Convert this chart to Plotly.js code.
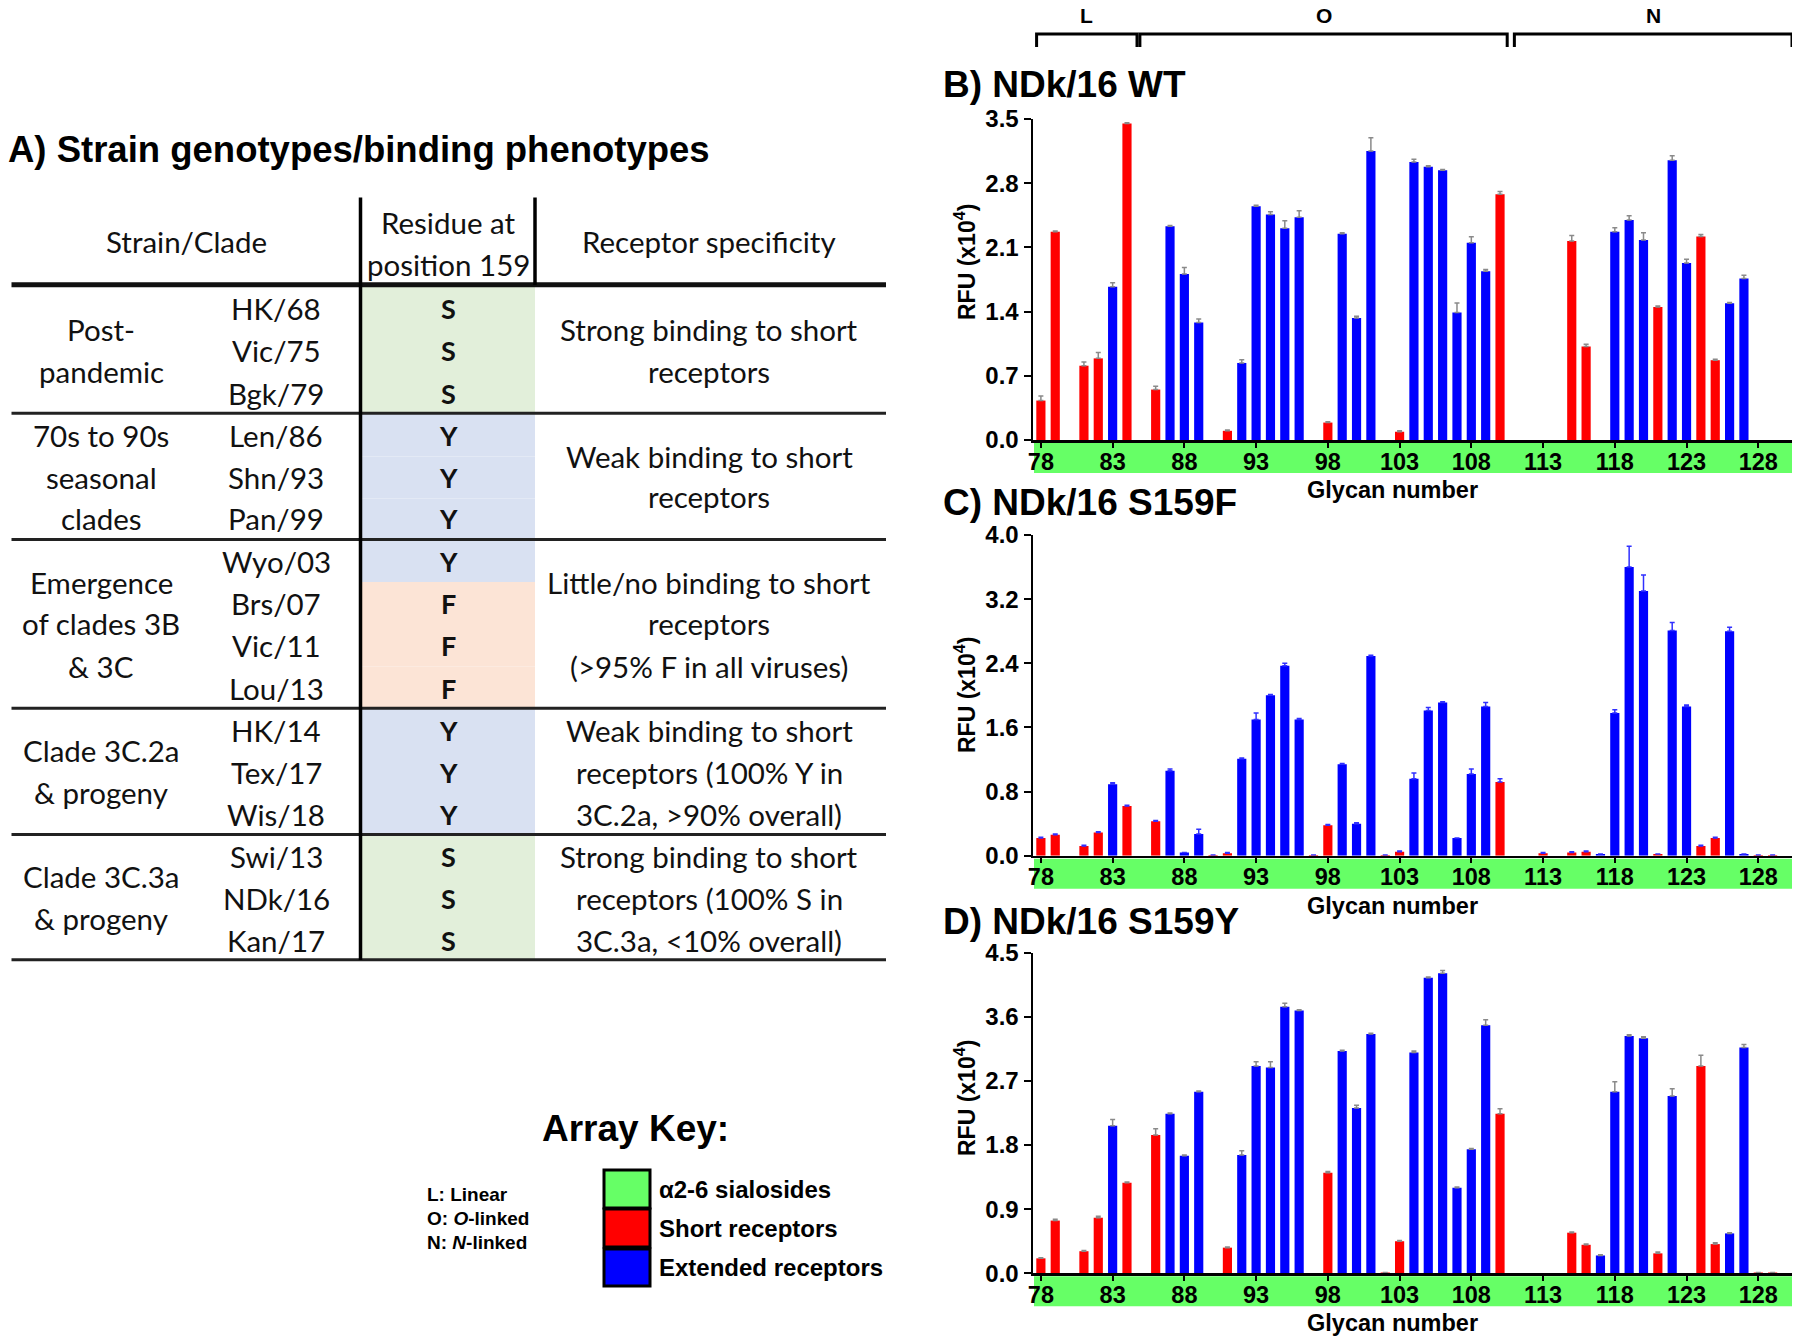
<!DOCTYPE html>
<html><head><meta charset="utf-8">
<script src="https://cdn.plot.ly/plotly-3.0.1.min.js"></script>
<style>html,body{margin:0;padding:0;background:#fff}#chart{width:1800px;height:1342px}</style>
</head><body><div id="chart"></div>
<script>
// ---------- DATA ----------
const glycans = [78,79,80,81,82,83,84,85,86,87,88,89,90,91,92,93,94,95,96,97,98,99,100,101,102,103,104,105,106,107,108,109,110,111,112,113,114,115,116,117,118,119,120,121,122,123,124,125,126,127,128,129];
// S = short receptor (red), E = extended receptor (blue)
const receptorType = ['S','S','','S','S','E','S','','S','E','E','E','S','S','E','E','E','E','E','S','S','E','E','E','S','S','E','E','E','E','E','E','S','','','S','','S','S','E','E','E','E','S','E','E','S','S','E','E','S','S'];

const wtValues = [0.43,2.27,null,0.81,0.89,1.67,3.45,null,0.55,2.33,1.81,1.28,null,0.10,0.84,2.55,2.46,2.31,2.43,null,0.19,2.25,1.33,3.15,null,0.09,3.03,2.98,2.94,1.39,2.15,1.84,2.68,null,null,null,null,2.17,1.02,null,2.27,2.40,2.18,1.45,3.05,1.93,2.22,0.87,1.49,1.76,null,null];
const wtErrors = [0.05,0.01,0,0.04,0.065,0.045,0.01,0,0.035,0.01,0.07,0.04,0,0.01,0.035,0.01,0.03,0.08,0.07,0,0.01,0.01,0.02,0.145,0,0.01,0.03,0.01,0.01,0.105,0.065,0.02,0.03,0,0,0,0,0.06,0.025,0,0.045,0.045,0.08,0.01,0.05,0.04,0.02,0.01,0.01,0.035,0,0];

const s159fValues = [0.22,0.26,null,0.12,0.29,0.89,0.62,null,0.43,1.06,0.04,0.27,0.01,0.03,1.21,1.70,2.00,2.37,1.70,0.01,0.38,1.14,0.40,2.49,0.01,0.05,0.96,1.81,1.91,0.22,1.02,1.86,0.92,null,null,0.03,null,0.04,0.05,0.02,1.78,3.60,3.30,0.02,2.81,1.86,0.12,0.22,2.80,0.02,0.01,0.01];
const s159fErrors = [0.01,0.01,0,0.01,0.01,0.02,0.01,0,0.01,0.02,0,0.06,0,0.01,0.01,0.08,0.01,0.03,0.01,0,0.01,0.01,0.01,0.01,0,0.01,0.07,0.04,0.01,0,0.06,0.05,0.04,0,0,0.01,0,0.01,0.01,0,0.04,0.26,0.20,0,0.10,0.02,0.01,0.01,0.05,0,0,0];

const s159yValues = [0.21,0.74,null,0.31,0.78,2.07,1.27,null,1.94,2.24,1.65,2.55,null,0.36,1.66,2.91,2.89,3.74,3.69,null,1.41,3.12,2.32,3.36,0.01,0.45,3.10,4.15,4.21,1.20,1.74,3.48,2.24,null,null,null,null,0.57,0.40,0.25,2.55,3.33,3.30,0.28,2.49,null,2.91,0.41,0.56,3.17,0.01,0.01];
const s159yErrors = [0.01,0.02,0,0.01,0.02,0.09,0.01,0,0.09,0.01,0.01,0.01,0,0.01,0.06,0.06,0.08,0.05,0.01,0,0.02,0.01,0.04,0.01,0,0.01,0.02,0.01,0.04,0.01,0.01,0.08,0.07,0,0,0,0,0.01,0.01,0.01,0.14,0.02,0.02,0.02,0.10,0,0.15,0.02,0.01,0.04,0,0];

const xTickVals = [78,83,88,93,98,103,108,113,118,123,128];

// glycan class brackets (L / O / N)
const bracketLabels = ['L','O','N'];
const bracketStart = [77.7,84.9,111.0];
const bracketEnd = [84.7,110.5,130.35];

// table
const tableHeaders = ['Strain/Clade','Residue at<br>position 159','Receptor specificity'];
const strains = ['HK/68','Vic/75','Bgk/79','Len/86','Shn/93','Pan/99','Wyo/03','Brs/07','Vic/11','Lou/13','HK/14','Tex/17','Wis/18','Swi/13','NDk/16','Kan/17'];
const residues = ['S','S','S','Y','Y','Y','Y','F','F','F','Y','Y','Y','S','S','S'];
const cladeLines = [['Post-','pandemic'],['70s to 90s','seasonal','clades'],['Emergence','of clades 3B','& 3C'],['Clade 3C.2a','& progeny'],['Clade 3C.3a','& progeny']];
const specLines = [['Strong binding to short','receptors'],['Weak binding to short','receptors'],['Little/no binding to short','receptors','(>95% F in all viruses)'],['Weak binding to short','receptors (100% Y in','3C.2a, >90% overall)'],['Strong binding to short','receptors (100% S in','3C.3a, <10% overall)']];

const keyItems = ['α2-6 sialosides','Short receptors','Extended receptors'];
const keyColors = ['#66ff66','#ff0000','#0000ff'];
const linkageKey = ['L: Linear','O: <i>O</i>-linked','N: <i>N</i>-linked'];

// ---------- LAYOUT HELPERS ----------
const W = 1800, H = 1342;
const px = v => v / W;
const py = v => 1 - v / H;
const RED = '#ff0000', BLUE = '#0000ff', GREEN = '#66ff66';
const SANS = 'Liberation Sans, Arial, sans-serif';
const TFONT = 'Lato, Open Sans, sans-serif';
const TSIZE = 29.5;

const panels = [
  {title:'B) NDk/16 WT', values: wtValues, errors: wtErrors, range:[0,3.5], dtick:0.7, top:119, bottom:440, titleY:84, errColor:'#8a8a8a', rfuY:262},
  {title:'C) NDk/16 S159F', values: s159fValues, errors: s159fErrors, range:[0,4.0], dtick:0.8, top:535, bottom:855.7, titleY:503, errColor:'#3030ff', rfuY:695},
  {title:'D) NDk/16 S159Y', values: s159yValues, errors: s159yErrors, range:[0,4.5], dtick:0.9, top:952.7, bottom:1273.3, titleY:921, errColor:'#8a8a8a', rfuY:1098}
];

const xLeft = 1033, xRight = 1792;
const xRange = [77.45, 130.35];

const traces = [];
const layout = {
  width: W, height: H,
  margin: {l:0, r:0, t:0, b:0},
  paper_bgcolor: '#fff', plot_bgcolor: '#fff',
  showlegend: false,
  bargap: 0.36,
  shapes: [], annotations: []
};

const ann = (text, x, y, size, o = {}) => layout.annotations.push(Object.assign({
  text, x: px(x), y: py(y), xref:'paper', yref:'paper', showarrow:false,
  xanchor:'center', yanchor:'middle',
  font:{family: SANS, size, color:'#000'}
}, o));

const colors = receptorType.map(t => t === 'S' ? RED : BLUE);

panels.forEach((p, i) => {
  const sfx = i === 0 ? '' : String(i + 1);
  traces.push({
    type:'bar', x: glycans, y: p.values,
    xaxis:'x' + sfx, yaxis:'y' + sfx,
    marker:{color: colors, line:{width:0}},
    error_y:{type:'data', symmetric:false, array: p.errors, arrayminus: p.errors.map(() => 0),
             color: p.errColor, thickness:1.5, width:2.5},
    hoverinfo:'x+y'
  });
  layout['xaxis' + sfx] = {
    domain:[px(xLeft), px(xRight)], anchor:'y' + sfx, range: xRange,
    tickmode:'array', tickvals: xTickVals, ticks:'outside', ticklen:5, tickwidth:2, tickcolor:'#000',
    ticklabelstandoff:-6,
    showline:true, linecolor:'#000', linewidth:2.5, showgrid:false, zeroline:false,
    tickfont:{family: SANS, size:23.5, color:'#000', weight:'bold'}, fixedrange:true
  };
  layout['yaxis' + sfx] = {
    domain:[py(p.bottom), py(p.top)], anchor:'x' + sfx, range: p.range,
    tick0:0, dtick: p.dtick, tickformat:'.1f', ticks:'outside', ticklen:7, tickwidth:2, tickcolor:'#000',
    showline:true, linecolor:'#000', linewidth:2.5, showgrid:false, zeroline:false,
    tickfont:{family: SANS, size:24, color:'#000', weight:'bold'}, fixedrange:true
  };
  // green alpha2-6 band under the axis
  layout.shapes.push({type:'rect', layer:'below', xref:'paper', yref:'paper',
    x0: px(xLeft + 1), x1: px(xRight), y0: py(p.bottom + 33), y1: py(p.bottom + 3),
    fillcolor: GREEN, line:{width:0}});
  ann('<b>' + p.title + '</b>', 941, p.titleY, 37, {xanchor:'left'});
  ann('<b>RFU (x10<sup>4</sup>)</b>', 965, p.rfuY, 23, {textangle:-90});
  ann('<b>Glycan number</b>', 1392, p.bottom + 50, 23.5);
});

// top brackets
bracketLabels.forEach((lab, i) => {
  const y1 = py(34), y0 = py(47);
  layout.shapes.push({type:'path', xref:'x', yref:'paper',
    path:`M ${bracketStart[i]},${y0} L ${bracketStart[i]},${y1} L ${bracketEnd[i]},${y1} L ${bracketEnd[i]},${y0}`,
    line:{color:'#000', width:3}});
  layout.annotations.push({text:'<b>' + lab + '</b>', x:(bracketStart[i] + bracketEnd[i]) / 2, xref:'x',
    y: py(16), yref:'paper', xanchor:'center', yanchor:'middle', showarrow:false,
    font:{family: SANS, size:21, color:'#000'}});
});

// ---------- PANEL A TABLE ----------
ann('<b>A) Strain genotypes/binding phenotypes</b>', 6, 150, 36.5, {xanchor:'left'});

const rowY = [309,351,393,435,478,519,561,603,645,688,730,772,814,856,898,940];
const colX = {clade:101, strain:276, residue:448, spec:709};
const residueFill = {S:'#e2efda', Y:'#d9e1f2', F:'#fce4d6'};
const lineL = 11.5, lineR = 886, vx1 = 360.5, vx2 = 535;

// residue column fills
residues.forEach((r, i) => {
  const y0 = i === 0 ? 287 : (rowY[i] + rowY[i-1]) / 2;
  const y1 = i === residues.length - 1 ? 959 : (rowY[i] + rowY[i+1]) / 2;
  layout.shapes.push({type:'rect', xref:'paper', yref:'paper', layer:'below',
    x0: px(vx1 + 1), x1: px(vx2), y0: py(y1), y1: py(y0), fillcolor: residueFill[r], line:{width:0}});
});

// lines
const hline = (y, w, c) => layout.shapes.push({type:'line', xref:'paper', yref:'paper',
  x0: px(lineL), x1: px(lineR), y0: py(y), y1: py(y), line:{color:c, width:w}});
hline(284.7, 5, '#111');
[413.3, 539.6, 708.3, 834.6, 959.7].forEach(y => hline(y, 3, '#222'));
layout.shapes.push({type:'line', xref:'paper', yref:'paper', x0:px(vx1), x1:px(vx1), y0:py(197.5), y1:py(960), line:{color:'#000', width:3.5}});
layout.shapes.push({type:'line', xref:'paper', yref:'paper', x0:px(vx2), x1:px(vx2), y0:py(197.5), y1:py(285), line:{color:'#000', width:3.5}});

// header
const tf = (size) => ({family: TFONT, size, color:'#111'});
ann(tableHeaders[0], 186, 242, TSIZE, {font: tf(TSIZE)});
tableHeaders[1].split('<br>').forEach((t, k) => ann(t, 448, 223 + k * 41, TSIZE, {font: tf(TSIZE)}));
ann(tableHeaders[2], 709, 242, TSIZE, {font: tf(TSIZE)});

strains.forEach((s, i) => {
  ann(s, colX.strain, rowY[i], TSIZE, {font: tf(TSIZE)});
  ann('<b>' + residues[i] + '</b>', colX.residue, rowY[i], 27, {font: tf(27)});
});
const cladeStartY = [[329,371],[435,478,519],[582,623,666],[750,792],[876,918]];
cladeLines.forEach((g, gi) => g.forEach((t, k) => ann(t, colX.clade, cladeStartY[gi][k], TSIZE, {font: tf(TSIZE)})));
const specStartY = [[329,371],[456,497],[582,623,666],[730,772,814],[856,898,940]];
specLines.forEach((g, gi) => g.forEach((t, k) => ann(t, colX.spec, specStartY[gi][k], TSIZE, {font: tf(TSIZE)})));

// ---------- ARRAY KEY ----------
ann('<b>Array Key:</b>', 635, 1128, 37);
const keyY = [[1170,1208],[1209,1247],[1249,1286]];
keyItems.forEach((t, i) => {
  layout.shapes.push({type:'rect', xref:'paper', yref:'paper', x0:px(604), x1:px(650),
    y0:py(keyY[i][1]), y1:py(keyY[i][0]), fillcolor:keyColors[i], line:{color:'#000', width:3}});
  ann('<b>' + t + '</b>', 657, (keyY[i][0] + keyY[i][1]) / 2, 24, {xanchor:'left'});
});
const linkY = [1194, 1218, 1242];
linkageKey.forEach((t, i) => ann('<b>' + t + '</b>', 425, linkY[i], 19, {xanchor:'left'}));

Plotly.newPlot('chart', traces, layout, {staticPlot:true});
</script>
</body></html>
